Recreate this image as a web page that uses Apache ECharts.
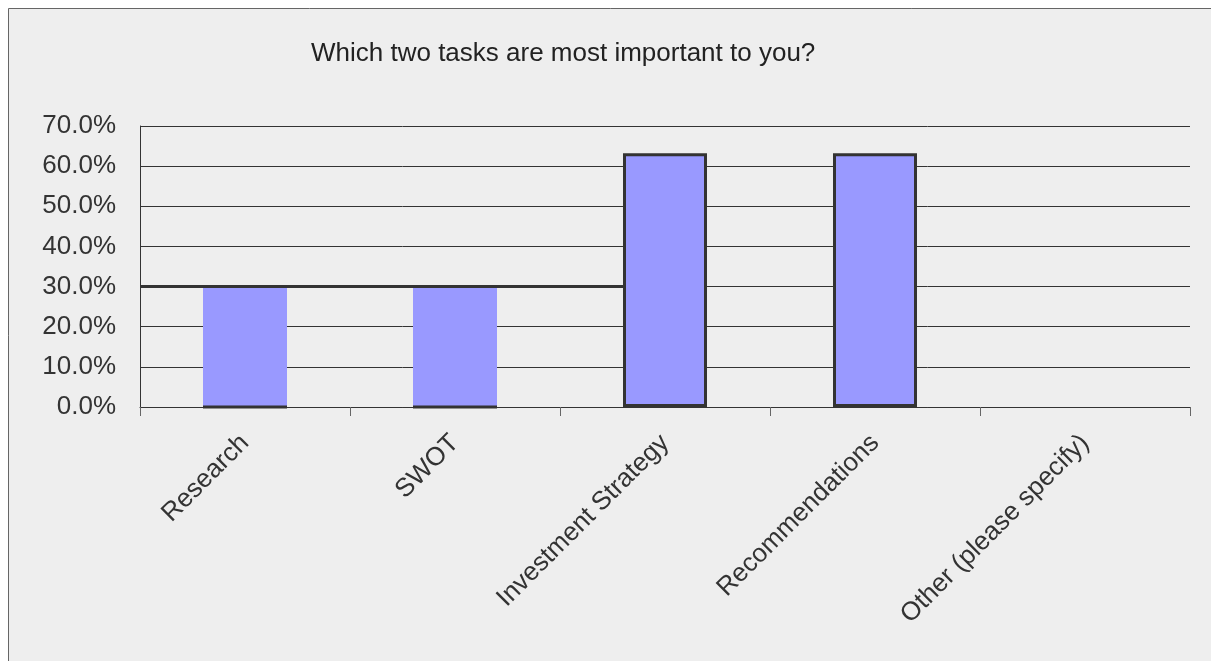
<!DOCTYPE html>
<html>
<head>
<meta charset="utf-8">
<script src="https://cdn.jsdelivr.net/npm/echarts@6/dist/echarts.min.js"></script>
<style>
  html, body { margin: 0; padding: 0; background: #ffffff; }
  #myChart { width: 1211px; height: 661px; }
</style>
</head>
<body>
<div id="myChart"></div>
<script>
  // categories and values
  let categories = ['Research', 'SWOT', 'Investment Strategy', 'Recommendations', 'Other (please specify)']
  let values = [30.0, 30.0, 63.2, 63.2, 0]
  let yTicks = [0, 10, 20, 30, 40, 50, 60, 70]

  let myChart = echarts.init(document.getElementById('myChart'))

  let barData = values.map(function (v, i) {
    // the two low bars are drawn without side borders in the original
    let bordered = v > 50
    return {
      value: v,
      itemStyle: {
        color: '#9999ff',
        borderColor: '#333333',
        borderWidth: bordered ? 3 : 0
      }
    }
  })

  // the original draws a heavy rule at 30% up to the third bar and a heavy
  // base under the two unbordered bars; done on a hidden value x axis
  let halfBar = 0.2
  let ruleSeries = {
    type: 'line', xAxisIndex: 1, symbol: 'none', silent: true, z: 3, clip: false,
    lineStyle: { color: '#333333', width: 3 },
    data: [[-0.5, values[0]], [2 - halfBar, values[0]]]
  }
  let baseSeries = [0, 1].map(function (i) {
    return {
      type: 'line', xAxisIndex: 1, symbol: 'none', silent: true, z: 3, clip: false,
      lineStyle: { color: '#333333', width: 3 },
      data: [[i - halfBar, 0], [i + halfBar, 0]]
    }
  })

  myChart.setOption({
    backgroundColor: '#ffffff',
    animation: false,
    textStyle: { fontFamily: 'Liberation Sans, Arial, sans-serif' },
    graphic: [{
      type: 'rect',
      z: -10,
      shape: { x: 8.5, y: 8.5, width: 1210, height: 660 },
      style: { fill: '#eeeeee', stroke: '#666666', lineWidth: 1 }
    }],
    title: {
      text: 'Which two tasks are most important to you?',
      left: 306,
      top: 36,
      textStyle: { fontSize: 26, fontWeight: 'normal', color: '#222222' }
    },
    grid: {
      left: 140,
      right: 21,
      top: 126,
      bottom: 254,
      containLabel: false
    },
    xAxis: [{
      type: 'category',
      data: categories,
      axisLine: { show: true, lineStyle: { color: '#333333', width: 1 } },
      axisTick: { show: true, length: 9, lineStyle: { color: '#666666' } },
      axisLabel: {
        rotate: 45,
        interval: 0,
        margin: 32,
        fontSize: 26,
        color: '#333333'
      },
      splitLine: { show: false }
    }, {
      type: 'value',
      min: -0.5,
      max: categories.length - 0.5,
      show: false
    }],
    yAxis: [{
      type: 'value',
      min: yTicks[0],
      max: yTicks[yTicks.length - 1],
      interval: 10,
      axisLine: { show: true, onZero: false, lineStyle: { color: '#333333', width: 1 } },
      axisTick: { show: false },
      axisLabel: {
        fontSize: 26,
        color: '#333333',
        margin: 24,
        padding: [6, 0, 0, 0],
        formatter: function (v) { return v.toFixed(1) + '%' }
      },
      splitLine: { show: true, lineStyle: { color: '#333333', width: 1 } }
    }],
    series: [{
      type: 'bar',
      barWidth: '40%',
      z: 2,
      data: barData
    }, ruleSeries].concat(baseSeries)
  })
</script>
</body>
</html>
